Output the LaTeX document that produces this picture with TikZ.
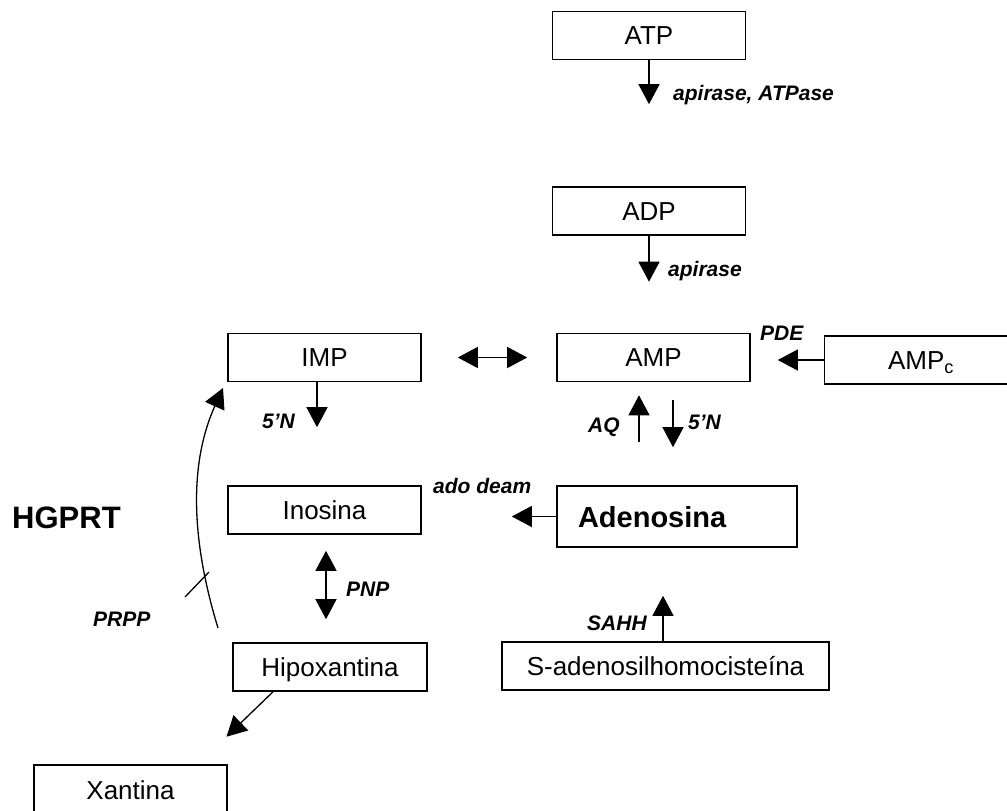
\documentclass[tikz,border=0pt]{standalone}
\usepackage{fontspec}
\setmainfont{Liberation Sans}
\usetikzlibrary{calc}
\usetikzlibrary{positioning,arrows.meta}

\tikzset{
    enzyme/.style={
        inner sep=0pt,
        font=\fontsize{21}{24}\selectfont\bfseries\itshape
    },
    bigtitle/.style={
        inner sep=0pt,
        font=\fontsize{31}{36}\selectfont\bfseries
    }
}

\begin{document}
\begin{tikzpicture}[
    x=1pt, y=-1pt,
    block/.style={
        draw, line width=1.6pt,
        minimum width=193pt, minimum height=48pt,
        inner sep=0pt, text height=18.6pt, text depth=0pt,
        font=\fontsize{26}{30}\selectfont
    },
    arrow/.style={-{Triangle[width=21pt,length=20pt]}, line width=1.3pt},
    twoway/.style={{Triangle[width=21pt,length=20pt]}-{Triangle[width=21pt,length=20pt]}, line width=1.3pt},
]

\useasboundingbox (0,0) rectangle (1007,811);

% ===============================
%        nucleotides (top)
% ===============================

\node[block] (atp) at (649,35.5) {ATP};
\node[block] (adp) at (649,211) {ADP};
\node[block] (amp) at (653.5,357.5) {AMP};
\node[block] (ampc) at (921,360) {AMP\textsubscript{c}};
\node[block] (imp) at (324.5,357.5) {IMP};


% ===============================
%        nucleosides / bases
% ===============================

\node[block] (ino) at (324.5,510) {Inosina};

\node[block, minimum width=240pt, minimum height=61pt,
      text width=198pt, inner xsep=21pt, align=left,
      text height=21pt, font=\fontsize{29}{34}\selectfont\bfseries]
    (ado) at (677,516.5) {Adenosina};

\node[block, minimum width=194pt] (hip) at (330,667) {Hipoxantina};
\node[block, minimum width=327pt] (sah) at (665.5,666) {S-adenosilhomocisteína};
\node[block, minimum height=50pt] (xan) at (130.5,790) {Xantina};


% ===============================
%              arrows
% ===============================

\draw[arrow, shorten >=82pt] (atp) -- (adp);
\draw[arrow, shorten >=51pt] (adp.south) -- (adp.south |- amp.north);

\draw[twoway, shorten <=36pt, shorten >=29pt] (imp) -- (amp);
\draw[arrow, shorten >=27pt] (ampc.west) -- (ampc.west -| amp.east);

\draw[arrow, shorten <=43pt, shorten >=13pt] ([xshift=-38pt]ado.north) -- ([xshift=-14.5pt]amp.south);
\draw[arrow, shorten <=18pt, shorten >=38pt] ([xshift=19.5pt]amp.south) -- ([xshift=-4pt]ado.north);

\draw[arrow, shorten >=58pt] ([xshift=-7.5pt]imp.south) -- ([xshift=-7.5pt]ino.north);
\draw[arrow, shorten >=90pt] (ado.west) -- (ado.west -| ino.east);

\draw[twoway, shorten <=16pt, shorten >=23pt] ([xshift=1.5pt]ino.south) -- ([xshift=-4pt]hip.north);
\draw[arrow, shorten >=48pt] ([xshift=-2.5pt]sah.north) -- ([xshift=-2.5pt]sah.north |- ado.south);

\draw[arrow, shorten >=39.6pt] ([xshift=-57pt]hip.south) -- ([xshift=67.5pt]xan.north);

% salvage path
\coordinate (hgS) at (218,628);
\coordinate (hgE) at (223,388);
\draw[arrow] (hgS) .. controls (185,520) and (195,450) .. (hgE);
\draw[line width=1.3pt] (185,597) -- (209,572);


% ===============================
%              labels
% ===============================

\node[enzyme, anchor=base west] at (673,100) {apirase, ATPase};
\node[enzyme, anchor=base west] at (668,276) {apirase};
\node[enzyme, anchor=base west] at (760,340) {PDE};
\node[enzyme, anchor=base west] at (588,432) {AQ};
\node[enzyme, anchor=base west] at (688,429) {5’N};
\node[enzyme, anchor=base west] at (262,428) {5’N};
\node[enzyme, anchor=base west] at (433,493) {ado deam};
\node[enzyme, anchor=base west] at (346,596) {PNP};
\node[enzyme, anchor=base west] at (587,630) {SAHH};
\node[enzyme, anchor=base west] at (93,626) {PRPP};
\node[bigtitle, anchor=base west] at (12,528) {HGPRT};

\end{tikzpicture}
\end{document}
